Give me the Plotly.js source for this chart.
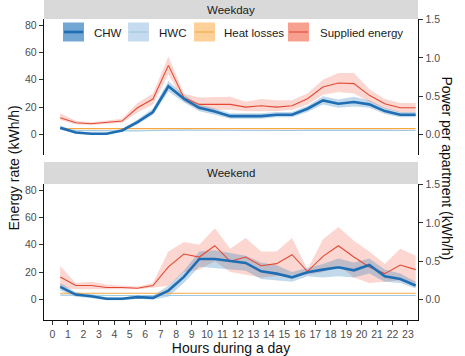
<!DOCTYPE html>
<html>
<head>
<meta charset="utf-8">
<script src="https://cdn.plot.ly/plotly-3.0.1.min.js"></script>
<style>html,body{margin:0;padding:0;background:#fff;}#chart{width:465px;height:356px;}</style>
</head>
<body>
<div id="chart"></div>
<script>
// ---------------- data ----------------
const hours = [0.5,1.5,2.5,3.5,4.5,5.5,6.5,7.5,8.5,9.5,10.5,11.5,12.5,13.5,14.5,15.5,16.5,17.5,18.5,19.5,20.5,21.5,22.5,23.5];
const hourTicks = [0,1,2,3,4,5,6,7,8,9,10,11,12,13,14,15,16,17,18,19,20,21,22,23];
const panels = ["Weekday", "Weekend"];
const seriesNames = ["CHW", "HWC", "Heat losses", "Supplied energy"];
const apartments = 56; // secondary axis: kWh/h per apartment

// Weekday
const wdSupplied   = [12.2,8.6,7.8,8.6,9.8,19.5,25.9,50.5,26.9,22,22,22,20,21,20,21,26.1,34.7,37.6,37.2,28.6,22.5,19.5,19.5];
const wdSuppliedLo = [10.5,7.5,7,7.5,8.5,16,22,44,24,18,18,18,17,17,17,18,22,29,31,30,24,19,16,16];
const wdSuppliedHi = [15.5,10,9,10,11.5,23,30,57,30,27,27.5,27.5,24,26,25,25,30,40,45,45,33,26,23,23];
const wdCHW   = [4.9,1.5,0.5,0.5,2.9,9,16.4,35.2,26.1,19.5,16.8,13.4,13.4,13.4,14.4,14.4,18.8,24.9,22.5,23.7,22,17.1,14.4,14.4];
const wdCHWLo = [3.5,0.8,0,0,2,7.5,14.5,31.5,23.5,17,14.5,11.5,11.5,11.5,12.5,12.5,16.5,22,19.5,20.5,19.5,15,12.5,12.5];
const wdCHWHi = [6.5,2.5,1.2,1.2,4,11,19,39,29,22,19,15.5,15.5,15.5,16.5,16.5,21,28,25.5,27.5,25,19.5,16.5,16.5];
const wdHWC   = [4,3,2.8,2.6,2.6,2.7,2.9,3.2,3.2,3.1,3,3,3,3,2.9,2.9,3,3.1,3.1,3.1,3,3,2.9,2.9];
const wdHeat  = [4.3,4.3,4.3,4.3,4.3,4.3,4.3,4.3,4.3,4.3,4.3,4.3,4.3,4.3,4.3,4.3,4.3,4.3,4.3,4.3,4.3,4.3,4.3,4.3];

// Weekend
const weSupplied   = [16.5,10.2,10.2,8.7,8.7,8.2,10.2,23.8,33.2,31,39.3,27.9,31,24.7,26.2,32.7,20.4,31.5,39.3,31,23.8,18.9,25.2,21.8];
const weSuppliedLo = [9,7.5,8,7.5,7.5,7.5,8.5,10,20,22,28,20,18,16,17,18,18,20,25,16,12,13,14,12];
const weSuppliedHi = [24.5,12,13,11,10,9.5,12,35,42,40,52,37,45,35,35,45,22,44,53,43,35,26,37,32];
const weCHW   = [9.2,3.6,2.4,0.5,0.5,1.7,1.2,6.5,16.5,29.6,29.6,27.9,26.7,20.6,18.9,16.2,19.9,21.8,23.5,21.3,25.2,17,15,10.2];
const weCHWLo = [6.5,2,1,-0.5,-0.5,0.5,0,2,12,24,23,22,21,15,14,13,17,16,17,16,19,13,12,8];
const weCHWHi = [12,5.5,4,1.5,1.5,3,3,10,21,35,36,34,32,27,25,20,23,26,30,27,30,22,19,13];
const weHWC   = [3.2,3,2.9,2.9,2.9,2.9,2.9,2.9,3,3,3,3,3,3,3,3,3,3,3,3,3,3,2.9,2.9];
const weHeat  = [4.6,4.6,4.6,4.6,4.6,4.6,4.6,4.6,4.6,4.6,4.6,4.6,4.6,4.6,4.6,4.6,4.6,4.6,4.6,4.6,4.6,4.6,4.6,4.6];

// ---------------- styles ----------------
const lineColors = ["#1f6eb3", "#9ecae1", "#f5a742", "#e34a33"];
const lineWidths = [2.6, 1.2, 1.1, 1.1];
const keyFills   = ["#72a6d3", "#c6dbef", "#fdd09a", "#f7a08f"];
const ribbonCHW = "rgba(49,130,189,0.30)";
const ribbonSup = "rgba(246,120,100,0.30)";

function ribbon(x, lo, hi, color, xa, ya) {
  const xs = x.concat(x.slice().reverse());
  const ys = hi.concat(lo.slice().reverse());
  return {x: xs, y: ys, xaxis: xa, yaxis: ya, type: 'scatter', mode: 'lines',
          fill: 'toself', fillcolor: color, line: {width: 0, color: 'rgba(0,0,0,0)'},
          hoverinfo: 'skip', showlegend: false};
}
function line(x, y, i, xa, ya) {
  return {x: x, y: y, xaxis: xa, yaxis: ya, type: 'scatter', mode: 'lines', name: seriesNames[i],
          line: {color: lineColors[i], width: lineWidths[i]}, showlegend: false};
}

const data = [
  ribbon(hours, wdSuppliedLo, wdSuppliedHi, ribbonSup, 'x', 'y'),
  ribbon(hours, wdCHWLo, wdCHWHi, ribbonCHW, 'x', 'y'),
  line(hours, wdHeat, 2, 'x', 'y'),
  line(hours, wdHWC, 1, 'x', 'y'),
  line(hours, wdSupplied, 3, 'x', 'y'),
  line(hours, wdCHW, 0, 'x', 'y'),
  ribbon(hours, weSuppliedLo, weSuppliedHi, ribbonSup, 'x2', 'y2'),
  ribbon(hours, weCHWLo, weCHWHi, ribbonCHW, 'x2', 'y2'),
  line(hours, weHeat, 2, 'x2', 'y2'),
  line(hours, weHWC, 1, 'x2', 'y2'),
  line(hours, weSupplied, 3, 'x2', 'y2'),
  line(hours, weCHW, 0, 'x2', 'y2'),
  {x: [], y: [], xaxis: 'x', yaxis: 'y3', type: 'scatter', showlegend: false, hoverinfo: 'skip'},
  {x: [], y: [], xaxis: 'x2', yaxis: 'y4', type: 'scatter', showlegend: false, hoverinfo: 'skip'}
];

// ---------------- layout ----------------
const W = 465, H = 356, mL = 44, mR = 47, mT = 19, mB = 36;
const plotW = W - mL - mR, plotH = H - mT - mB;
const px2x = p => (p - mL) / plotW;
const py2y = p => (H - mB - p) / plotH;

const yRange = [-15, 84.4];
const y2Range = [yRange[0] / apartments, yRange[1] / apartments];
const topDom = [py2y(155), 1];
const botDom = [0, py2y(184)];

const tickFont = {family: 'Liberation Sans, Arial, sans-serif', size: 10.5, color: '#4d4d4d'};
const yLeftBase = {range: yRange, tickmode: 'array', tickvals: [0,20,40,60,80], ticks: 'outside', ticklen: 4,
  tickcolor: '#333', showline: true, linecolor: '#111', linewidth: 1.3, showgrid: false, zeroline: false,
  tickfont: tickFont};
const yRightBase = {range: y2Range, tickmode: 'array', tickvals: [0,0.5,1,1.5], tickformat: '.1f', side: 'right',
  ticks: 'outside', ticklen: 4, tickcolor: '#333', showline: true, linecolor: '#111', linewidth: 1.3,
  showgrid: false, zeroline: false, tickfont: tickFont};
const xRange = [-0.55, 23.65];

const shapes = [], annotations = [];
// facet strips
const strips = [[0, 19], [162, 184]];
strips.forEach((s, i) => {
  shapes.push({type: 'rect', xref: 'paper', yref: 'paper', x0: 0, x1: 1, y0: py2y(s[1]), y1: py2y(s[0] - (i === 0 ? 5 : 0)),
    fillcolor: '#d9d9d9', line: {width: 0}, layer: 'below'});
  annotations.push({xref: 'paper', yref: 'paper', x: 0.5, y: py2y((s[0] + s[1]) / 2 + (i === 0 ? 0.5 : 0)), text: panels[i],
    showarrow: false, xanchor: 'center', yanchor: 'middle',
    font: {family: 'Liberation Sans, Arial, sans-serif', size: 11.5, color: '#1a1a1a'}});
});
// legend (ggplot style keys)
const keyX = [63, 128, 194, 288], keyW = 21, keyTop = 22.5, keyBot = 41.5;
const textX = [91.5, 156.5, 221.5, 317.5];
seriesNames.forEach((n, i) => {
  shapes.push({type: 'rect', xref: 'paper', yref: 'paper', x0: px2x(keyX[i]), x1: px2x(keyX[i] + keyW),
    y0: py2y(keyBot), y1: py2y(keyTop), fillcolor: keyFills[i], line: {width: 0}});
  shapes.push({type: 'line', xref: 'paper', yref: 'paper', x0: px2x(keyX[i] + 1), x1: px2x(keyX[i] + keyW - 1),
    y0: py2y(32), y1: py2y(32), line: {color: lineColors[i], width: lineWidths[i]}});
  annotations.push({xref: 'paper', yref: 'paper', x: px2x(textX[i]), y: py2y(32.5), text: n, showarrow: false,
    xanchor: 'left', yanchor: 'middle', font: {family: 'Liberation Sans, Arial, sans-serif', size: 11.5, color: '#1a1a1a'}});
});
// axis titles spanning both panels
const titleFont = {family: 'Liberation Sans, Arial, sans-serif', size: 14, color: '#111'};
annotations.push({xref: 'paper', yref: 'paper', x: px2x(13), y: py2y(168.5), text: 'Energy rate (kWh/h)',
  textangle: -90, showarrow: false, xanchor: 'center', yanchor: 'middle', font: titleFont});
annotations.push({xref: 'paper', yref: 'paper', x: px2x(447), y: py2y(168.5), text: 'Power per apartment (kWh/h)',
  textangle: 90, showarrow: false, xanchor: 'center', yanchor: 'middle', font: titleFont});

const layout = {
  width: W, height: H,
  margin: {l: mL, r: mR, t: mT, b: mB, pad: 0},
  paper_bgcolor: '#fff', plot_bgcolor: '#fff',
  showlegend: false,
  font: {family: 'Liberation Sans, Arial, sans-serif'},
  xaxis: {domain: [0, 1], anchor: 'y', range: xRange, showline: false, showticklabels: false, ticks: '',
    showgrid: false, zeroline: false},
  xaxis2: {domain: [0, 1], anchor: 'y2', range: xRange, tickmode: 'array', tickvals: hourTicks,
    ticks: 'outside', ticklen: 4, tickcolor: '#333', showline: true, linecolor: '#111', linewidth: 1.3,
    showgrid: false, zeroline: false, tickfont: tickFont,
    title: {text: 'Hours during a day', font: titleFont, standoff: 4}},
  yaxis: Object.assign({}, yLeftBase, {domain: topDom, anchor: 'x'}),
  yaxis2: Object.assign({}, yLeftBase, {domain: botDom, anchor: 'x2'}),
  yaxis3: Object.assign({}, yRightBase, {overlaying: 'y', anchor: 'x'}),
  yaxis4: Object.assign({}, yRightBase, {overlaying: 'y2', anchor: 'x2'}),
  shapes: shapes,
  annotations: annotations
};

Plotly.newPlot('chart', data, layout, {staticPlot: true, displayModeBar: false});
</script>
</body>
</html>
